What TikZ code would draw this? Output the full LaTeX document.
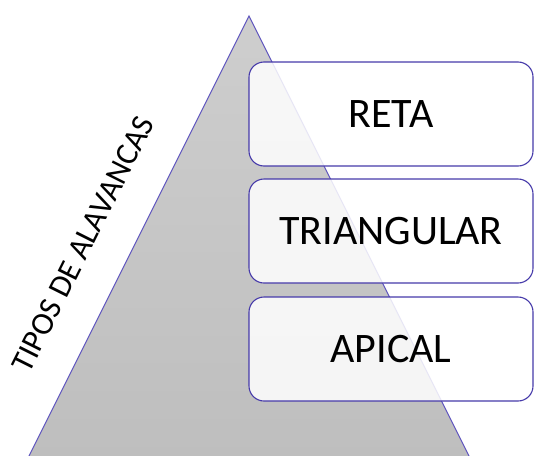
\documentclass[tikz,border=0pt]{standalone}
\usepackage{fontspec}
\setmainfont{Carlito}
\definecolor{triedge}{RGB}{95,85,190}
\definecolor{boxedge}{RGB}{70,58,170}
\definecolor{topgray}{RGB}{206,206,206}
\definecolor{botgray}{RGB}{190,190,190}
\tikzset{
  levelbox/.style={draw=boxedge, line width=1.1pt, rounded corners=15pt,
    fill=white, fill opacity=0.85, text opacity=1,
    minimum width=284pt, minimum height=104pt, inner sep=0pt,
    font=\fontsize{42}{50}\selectfont},
  sidelabel/.style={rotate=63.43, font=\fontsize{32}{38}\selectfont, inner sep=0pt}
}
\begin{document}
\begin{tikzpicture}[x=1pt,y=-1pt]
\useasboundingbox (0,0) rectangle (534,455);
\begin{scope}
\clip (0,0) rectangle (534,455);
\coordinate (apex) at (249,16);
\coordinate (bl) at (27,460);
\coordinate (br) at (471,460);
\shade[top color=topgray, bottom color=botgray, draw=triedge, line width=1pt]
  (apex) -- (br) -- (bl) -- cycle;
\node[levelbox] (reta) at (391,114) {RETA};
\node[levelbox] (tri) at (391,231) {TRIANGULAR};
\node[levelbox] (apical) at (391,349) {APICAL};
\end{scope}
\node[sidelabel] (tipos) at (83,244) {TIPOS DE ALAVANCAS};
\end{tikzpicture}
\end{document}
